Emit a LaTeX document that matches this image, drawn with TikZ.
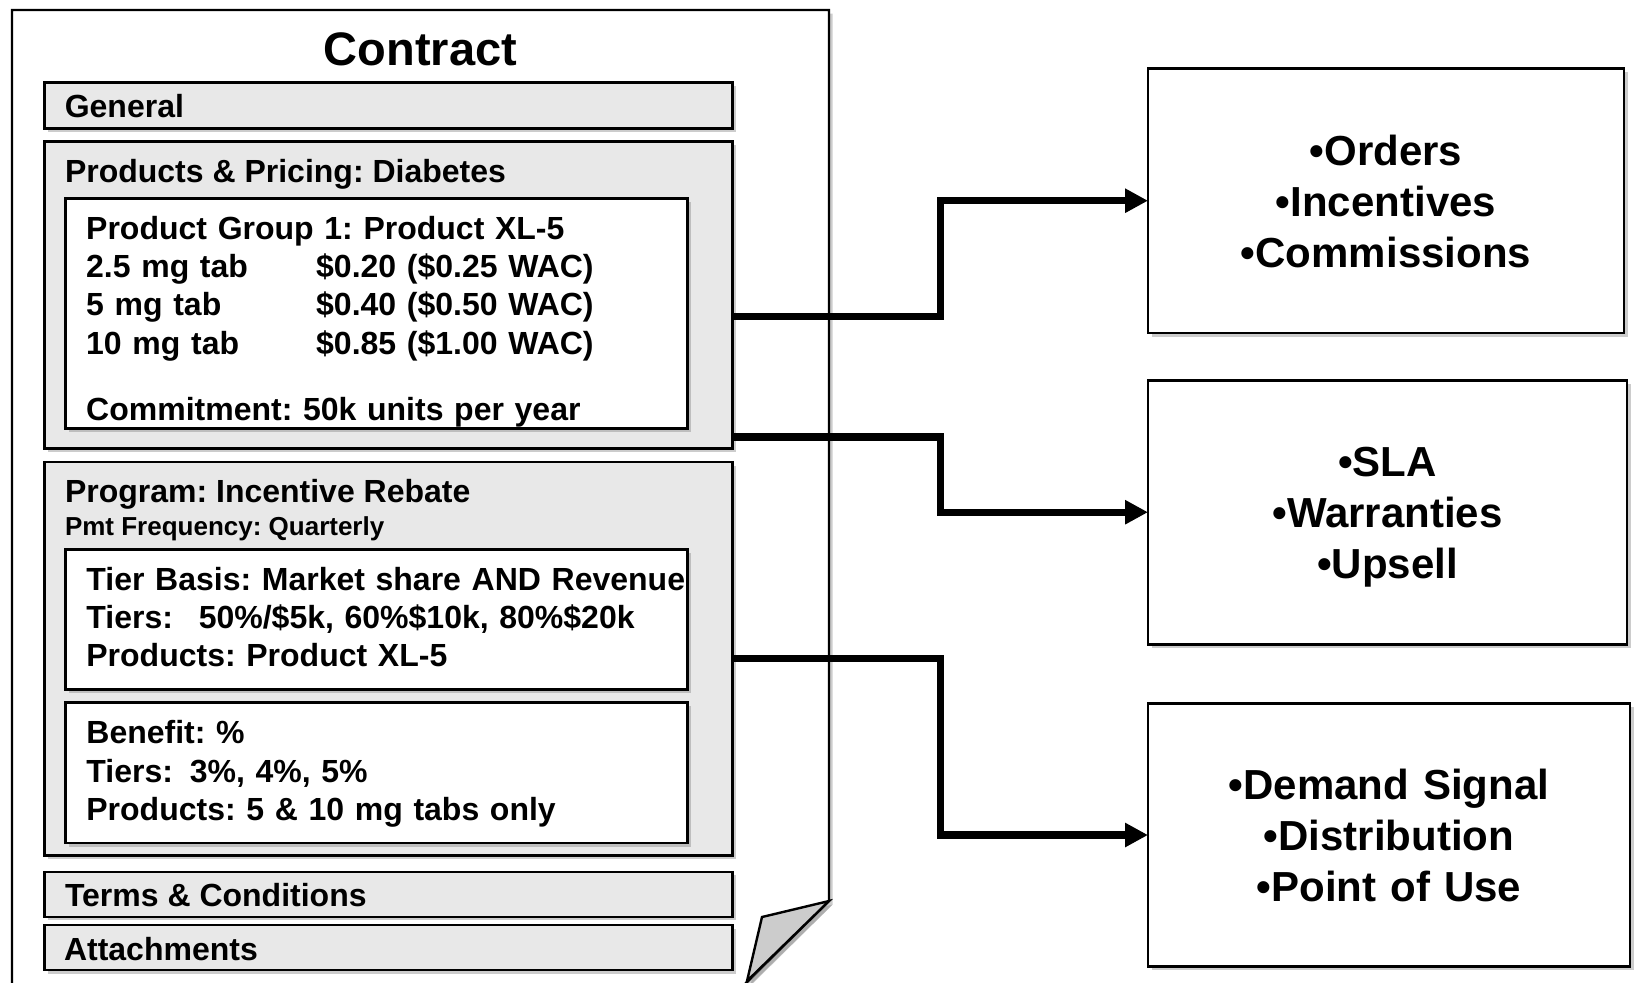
\documentclass[tikz,border=0pt]{standalone}
\usepackage{fontspec}
\setmainfont{Liberation Sans}
\usetikzlibrary{positioning,arrows.meta,shadows}
\definecolor{panelgray}{RGB}{232,232,232}
\definecolor{foldgray}{RGB}{204,204,204}
\newcommand{\pricecol}[1]{\makebox[115pt][l]{#1}}
\frenchspacing

\begin{document}
\begin{tikzpicture}[x=0.5pt,y=-0.5pt,
  font=\bfseries,
  softshadow/.style={drop shadow={shadow xshift=1.8pt,shadow yshift=-1.8pt,opacity=.4}},
  sect/.style={draw,line width=1.3pt,fill=panelgray,minimum width=344pt,inner sep=0pt,outer sep=0pt,softshadow},
  entry/.style={draw,line width=1.3pt,fill=white,minimum width=311pt,inner sep=0pt,outer sep=0pt,softshadow},
  outbox/.style={draw,line width=1.3pt,fill=white,minimum height=132pt,inner sep=0pt,outer sep=0pt,
    text width=230pt,align=center,text height=15.5pt,text depth=51pt,
    font=\fontsize{21}{25.5}\selectfont\bfseries,softshadow},
  hdr/.style={inner sep=0pt,anchor=base west,font=\fontsize{16}{19.2}\selectfont\bfseries},
  txt/.style={inner sep=0pt,anchor=base west,text width=320pt,align=left,font=\fontsize{16}{19.2}\selectfont\bfseries},
  link/.style={line width=3.6pt,-{Triangle[length=11.5pt,width=11.5pt]}},
]
\useasboundingbox (0,0) rectangle (1636,982);

% contract sheet with folded corner
\fill[white,softshadow] (12,10) -- (829,10) -- (829,901) -- (745,984) -- (12,984) -- cycle;
\draw[line width=1.2pt] (12,984) -- (12,10) -- (829,10) -- (829,901) -- (745,984);
\filldraw[fill=foldgray,line width=1.2pt,softshadow] (829,901) -- (762,917) -- (747,981) -- cycle;
\node[font=\fontsize{23.5}{28}\selectfont\bfseries,anchor=base] (title) at (420.5,65.7) {Contract};

% sections of the contract
\node[sect,minimum height=22.8pt] (general) at (388.6,105.5) {};
\node[hdr] at ([shift={(19.8,11.8)}]general.west) {General};

\node[sect,minimum height=153.3pt,below=6.7pt of general] (pricing) {};
\node[hdr] at ([shift={(20,40.3)}]pricing.north west) {Products \& Pricing: Diabetes};
\node[entry,minimum height=115pt,below right=28.3pt and 10.4pt of pricing.north west] (group) {};
\node[txt] at ([shift={(20.4,40.8)}]group.north west)
  {Product Group 1: Product XL-5\\
   \pricecol{2.5 mg tab}\$0.20 (\$0.25 WAC)\\
   \pricecol{5 mg tab}\$0.40 (\$0.50 WAC)\\
   \pricecol{10 mg tab}\$0.85 (\$1.00 WAC)\\[13.7pt]
   Commitment: 50k units per year};

\node[sect,minimum height=196.8pt,below=6.85pt of pricing] (program) {};
\node[hdr] at ([shift={(20,40)}]program.north west) {Program: Incentive Rebate};
\node[hdr,font=\fontsize{13}{15.6}\selectfont\bfseries] at ([shift={(20,73)}]program.north west) {Pmt Frequency: Quarterly};
\node[entry,minimum height=70pt,below right=43.65pt and 10.4pt of program.north west] (tier) {};
\node[txt] at ([shift={(20.6,40.7)}]tier.north west)
  {Tier Basis: Market share AND Revenue\\
   \makebox[56.2pt][l]{Tiers:}50\%/\$5k, 60\%\$10k, 80\%\$20k\\
   Products: Product XL-5};
\node[entry,minimum height=70.2pt,below=6.7pt of tier] (benefit) {};
\node[txt] at ([shift={(20.6,41)}]benefit.north west)
  {Benefit: \%\\
   \makebox[51.7pt][l]{Tiers:}3\%, 4\%, 5\%\\
   Products: 5 \& 10 mg tabs only};

\node[sect,minimum height=22.5pt,below=8.1pt of program] (terms) {};
\node[hdr] at ([shift={(20,11.8)}]terms.west) {Terms \& Conditions};
\node[sect,minimum height=22.5pt,below=4.15pt of terms] (attach) {};
\node[hdr] at ([shift={(19,12.5)}]attach.west) {Attachments};

% what the contract drives
\node[outbox,minimum width=238pt,minimum height=132.3pt] (orders) at (1386,200.7) {•Orders\\•Incentives\\•Commissions};
\node[outbox,minimum width=239.5pt] (sla) at (1387.5,512.2) {•SLA\\•Warranties\\•Upsell};
\node[outbox,minimum width=241pt,minimum height=131.7pt] (demand) at (1389,835) {•Demand Signal\\•Distribution\\•Point of Use};

\draw[link] ([shift={(0,21.7)}]pricing.east) -- ++(208,0) |- (orders.west);
\draw[link] ([shift={(0,-11.3)}]pricing.south east) -- ++(208,0) |- (sla.west);
\draw[link] (program.east) -- ++(208,0) |- (demand.west);
\end{tikzpicture}
\end{document}
